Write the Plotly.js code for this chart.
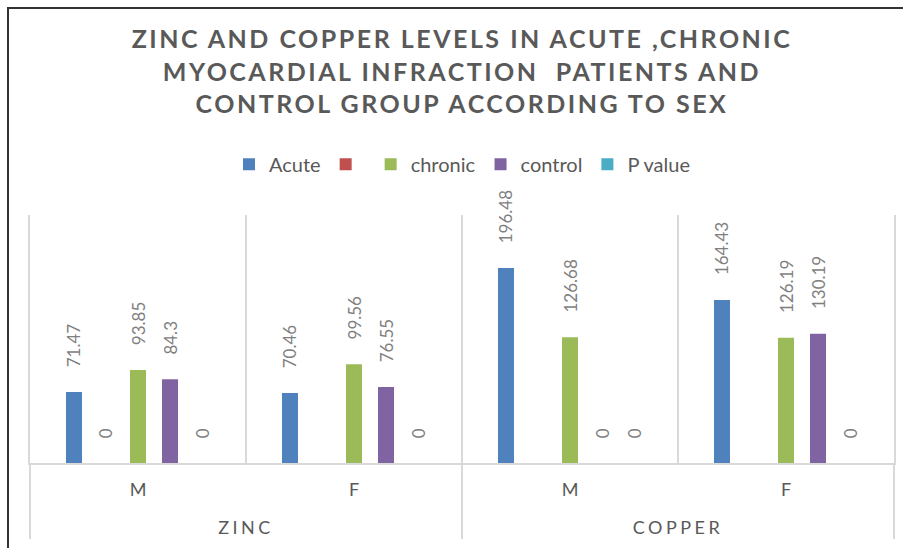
<!DOCTYPE html>
<html><head><meta charset="utf-8">
<script src="https://cdn.plot.ly/plotly-3.0.1.min.js"></script>
<style>
body{margin:0;background:#fff}
#chart{position:absolute;left:0;top:0;width:903px;height:548px}
#frame{position:absolute;left:7px;top:7px;right:0;bottom:0;border-left:2px solid #333;border-top:2px solid #333;pointer-events:none;z-index:10}
</style>
</head><body><div id="chart"></div><div id="frame"></div>
<script>
const groups = ['ZINC', 'ZINC', 'COPPER', 'COPPER'];
const sexes = ['M', 'F', 'M', 'F'];
const seriesNames = ['Acute', '', 'chronic', 'control', 'P value'];
const acute = [71.47, 70.46, 196.48, 164.43];
const blank = [0, null, null, null];
const chronic = [93.85, 99.56, 126.68, 126.19];
const control = [84.3, 76.55, 0, 130.19];
const pValue = [0, 0, 0, 0];
const colors = ['#4F81BD', '#C0504D', '#9BBB59', '#8064A2', '#4BACC6'];
const titleLines = ['ZINC AND COPPER LEVELS IN ACUTE ,CHRONIC', 'MYOCARDIAL INFRACTION  PATIENTS AND', 'CONTROL GROUP ACCORDING TO SEX'];

const spaced = (s, ls) => '<span style="letter-spacing:' + ls + 'px">' + s + '</span>';
// outer (group) level of the category axis, set one text line lower than Plotly's default
const outer = groups.map(g => '<br>' + spaced(g, 3.5));
const pad = '\u00a0\u00a0\u00a0\u00a0\u00a0';
const values = [acute, blank, chronic, control, pValue];

const traces = values.map((v, i) => ({
  type: 'bar',
  name: seriesNames[i],
  x: [outer, sexes],
  y: v,
  marker: {color: colors[i]},
  text: v.map(n => (n === null ? '' : pad + n)),
  textposition: 'outside',
  textangle: -90,
  cliponaxis: false,
  constraintext: 'none',
  textfont: {family: 'Lato', size: 17, color: '#7f7f7f'},
  hoverinfo: 'skip'
}));

const titleHtml = titleLines.map(l => spaced(l.replace(/  /g, ' \u00a0'), 2.5)).join('<br>');

const layout = {
  width: 903, height: 548,
  margin: {l: 30, r: 9, t: 215, b: 85},
  paper_bgcolor: '#ffffff', plot_bgcolor: '#ffffff',
  barmode: 'group', bargap: 0.259, bargroupgap: 0.5,
  title: {
    text: titleHtml,
    font: {family: 'Lato', size: 25, color: '#595959', weight: 700},
    x: 0.5, xref: 'paper', xanchor: 'center',
    y: 0.912, yref: 'container', yanchor: 'top'
  },
  legend: {
    orientation: 'h', x: 0.5, xanchor: 'center', y: 1.205, yanchor: 'middle',
    font: {family: 'Lato', size: 20, color: '#595959'}, traceorder: 'normal'
  },
  xaxis: {
    type: 'multicategory', tickson: 'boundaries',
    showgrid: true, gridcolor: '#d9d9d9', gridwidth: 2,
    showline: true, linecolor: '#d9d9d9', linewidth: 2,
    ticks: '', ticklabelstandoff: 9,
    showdividers: true, dividercolor: '#d9d9d9', dividerwidth: 2,
    tickfont: {family: 'Lato', size: 18, color: '#595959'}
  },
  yaxis: {
    range: [0, 250], showticklabels: false, showgrid: false, zeroline: false,
    showline: true, mirror: true, linecolor: '#d9d9d9', linewidth: 2
  },
  showlegend: true
};

Plotly.newPlot('chart', traces, layout, {displayModeBar: false, staticPlot: true});
</script>
</body></html>
